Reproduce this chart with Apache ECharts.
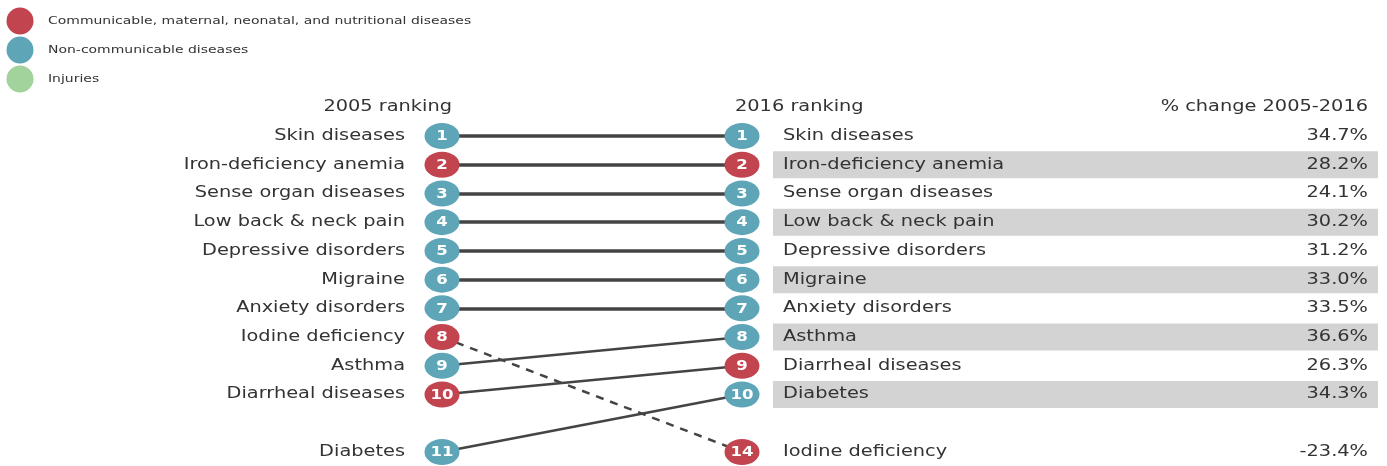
<!DOCTYPE html>
<html><head><meta charset="utf-8">
<script src="https://cdn.jsdelivr.net/npm/echarts@6/dist/echarts.min.js"></script>
<style>html,body{margin:0;padding:0;background:#fff}#c{width:1387px;height:466px}</style>
</head><body><div id="c"></div>
<script>
const groups = ["Communicable, maternal, neonatal, and nutritional diseases", "Non-communicable diseases", "Injuries"];
const groupColors = ["#c1444f", "#5ea5b8", "#a3d39c"];
const diseases = ["Skin diseases","Iron-deficiency anemia","Sense organ diseases","Low back & neck pain","Depressive disorders","Migraine","Anxiety disorders","Iodine deficiency","Asthma","Diarrheal diseases","Diabetes"];
const diseaseGroup = [1,0,1,1,1,1,1,0,1,0,1];
const rank2005 = [1,2,3,4,5,6,7,8,9,10,11];
const rank2016 = [1,2,3,4,5,6,7,14,8,9,10];
const pctChange = ["34.7%","28.2%","24.1%","30.2%","31.2%","33.0%","33.5%","-23.4%","36.6%","26.3%","34.3%"];
const headers = ["2005 ranking","2016 ranking","% change 2005-2016"];

const FONT = "'DejaVu Sans', Verdana, sans-serif";
const SX = 1.29;            // horizontal stretch of the reference typography
const TXT = '#333';
const slot = r => r <= 10 ? r : 12;
const X05 = 0, X16 = 300, XPCT = 926, XB0 = 331, XB1 = 936;

const groupSeries = groups.map((g, gi) => {
  const data = [];
  diseases.forEach((d, i) => {
    if (diseaseGroup[i] !== gi) return;
    data.push([X05, slot(rank2005[i])]);
    data.push([X16, slot(rank2016[i])]);
  });
  return {
    name: g, type:'scatter', symbol:'circle', symbolSize:[35,26], z:5, clip:false, silent:true,
    itemStyle:{color: groupColors[gi], opacity:1},
    data
  };
});

function txtEl(x, y, text, align, size, weight, fill, sx) {
  return {type:'text', x, y, scaleX: sx, z2: 10,
    style:{text, fill, font: (weight||'normal') + ' ' + size + 'px ' + FONT, align, verticalAlign:'middle'}};
}

const textSeries = {
  type:'custom', silent:true, z:6, clip:false,
  data: diseases.map((d,i)=>[slot(rank2005[i]), slot(rank2016[i]), i]),
  renderItem:(params, api)=>{
    const i = api.value(2);
    const pL = api.coord([X05, api.value(0)]);
    const pR = api.coord([X16, api.value(1)]);
    const pP = api.coord([XPCT, api.value(1)]);
    return {type:'group', children:[
      txtEl(pL[0]-37, pL[1], diseases[i], 'right', 15, 'normal', TXT, SX),
      txtEl(pR[0]+41, pR[1], diseases[i], 'left', 15, 'normal', TXT, SX),
      txtEl(pP[0], pP[1], pctChange[i], 'right', 15, 'normal', TXT, SX),
      txtEl(pL[0], pL[1]+0.5, String(rank2005[i]), 'center', 14, 'bold', '#fff', 1.18),
      txtEl(pR[0], pR[1]+0.5, String(rank2016[i]), 'center', 14, 'bold', '#fff', 1.18)
    ]};
  }
};
const bandSeries = {
  type:'custom', silent:true, z:1, clip:false,
  data: rank2016.map(r=>[slot(r)]).filter(v=>v[0]%2===0 && v[0]<=10),
  renderItem:(params, api)=>{
    const y = api.value(0);
    const p0 = api.coord([XB0, y-0.47]);
    const p1 = api.coord([XB1, y+0.47]);
    return {type:'rect', shape:{x:p0[0], y:p0[1], width:p1[0]-p0[0], height:p1[1]-p0[1]}, style:{fill:'#d3d3d3'}};
  }
};
const linesSeries = {
  type:'lines', coordinateSystem:'cartesian2d', z:3, silent:true, clip:false,
  data: diseases.map((d,i)=>{
    const straight = rank2005[i] === rank2016[i];
    return {coords:[[X05, slot(rank2005[i])],[X16, slot(rank2016[i])]],
      lineStyle:{color:'#444', width: straight?3.5:2.5, type: rank2016[i] > 10 ? [8,7] : 'solid', opacity:1}};
  })
};

const legendGraphics = [];
groups.forEach((g, gi) => {
  const cy = 21 + gi*29;
  legendGraphics.push({type:'circle', shape:{cx:20, cy, r:13.5}, style:{fill:groupColors[gi]}});
  legendGraphics.push({type:'text', x:48, y:cy, scaleX:1.27, style:{text:g, fill:TXT, font:'11px '+FONT, align:'left', verticalAlign:'middle'}});
});

const chart = echarts.init(document.getElementById('c'));
chart.setOption({
  animation:false,
  grid:{left:442, right:9, top:136, bottom:14, containLabel:false},
  xAxis:{type:'value', min:0, max:936, show:false},
  yAxis:{type:'value', min:1, max:12, inverse:true, show:false},
  graphic:[
    ...legendGraphics,
    {type:'text', x:452, y:107, scaleX:SX, style:{text:headers[0], fill:TXT, font:'15px '+FONT, align:'right', verticalAlign:'middle'}},
    {type:'text', x:735, y:107, scaleX:SX, style:{text:headers[1], fill:TXT, font:'15px '+FONT, align:'left', verticalAlign:'middle'}},
    {type:'text', x:1368, y:107, scaleX:SX, style:{text:headers[2], fill:TXT, font:'15px '+FONT, align:'right', verticalAlign:'middle'}}
  ],
  series:[bandSeries, linesSeries, ...groupSeries, textSeries]
});
</script></body></html>
